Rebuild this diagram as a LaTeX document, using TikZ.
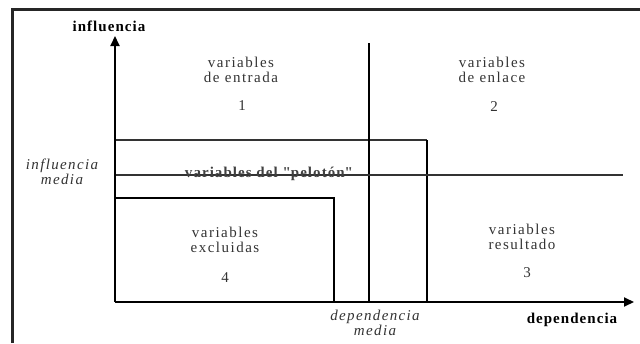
\documentclass[tikz,border=0pt]{standalone}
\usepackage{fontspec}
\setmainfont{Liberation Serif}
\usetikzlibrary{arrows.meta}
\tikzset{
  frame/.style={line width=3pt, draw=black!85},
  axis/.style={line width=2pt, -{Triangle[length=10pt,width=9pt]}},
  thick line/.style={line width=2pt},
  thin line/.style={line width=1.2pt, draw=black!80},
  lbl/.style={font=\fontsize{15}{15}\selectfont\addfontfeature{LetterSpace=10}, align=center, text=black!80, inner sep=0pt},
  axlbl/.style={font=\fontsize{15}{15}\selectfont\bfseries\addfontfeature{LetterSpace=7}, inner sep=0pt},
  itlbl/.style={font=\fontsize{15}{15}\selectfont\itshape\addfontfeature{LetterSpace=9}, align=center, text=black!80, inner sep=0pt},
}
\begin{document}
\begin{tikzpicture}[x=1pt,y=-1pt]
\useasboundingbox (0,0) rectangle (640,343);
% frame
\coordinate (ftl) at (12.5,9.5);
\coordinate (fbl) at (12.5,343);
\coordinate (ftr) at (640,9.5);
\draw[frame] (fbl) -- (ftl) -- (ftr);
% axes
\coordinate (o) at (115,302);
\coordinate (ytip) at (115,36);
\coordinate (xtip) at (634,302);
% boxes
\coordinate (p1) at (115,140);
\coordinate (p2) at (427,140);
\coordinate (p3) at (427,302);
\draw[thin line] (p1) -- (p2);
\draw[thick line] (p2) -- (p3);
\coordinate (e1) at (115,198);
\coordinate (e2) at (334,198);
\coordinate (e3) at (334,302);
\draw[line width=1.6pt] (e1) -- (e2) -- (e3);
% dependencia media vertical
\coordinate (dm1) at (369,43);
\coordinate (dm2) at (369,302);
\draw[thick line] (dm1) -- (dm2);
% influencia media horizontal
\coordinate (im1) at (115,175);
\coordinate (im2) at (623,175);
\draw[thin line] (im1) -- (im2);
\draw[axis] (o) -- (ytip);
\draw[axis] (o) -- (xtip);
% labels
\node[axlbl] (yl) at (109,26) {influencia};
\node[axlbl] (xl) at (572,320) {dependencia};
\node[itlbl] (iml) at (62,172) {influencia\\media};
\node[itlbl] (dml) at (375,323) {dependencia\\media};
\node[lbl] (q1) at (241,70) {variables\\de entrada};
\node[lbl] (n1) at (242,106) {1};
\node[lbl] (q2) at (492,70) {variables\\de enlace};
\node[lbl] (n2) at (494,107) {2};
\node[lbl] (q4) at (225,240) {variables\\excluidas};
\node[lbl] (n4) at (225,278) {4};
\node[lbl] (q3) at (522,237) {variables\\resultado};
\node[lbl] (n3) at (527,273) {3};
\node[lbl, font=\fontsize{15}{15}\selectfont\addfontfeature{LetterSpace=7}, text=black!75] (pel) at (269,174) {\textbf{variables del \textquotedbl pelotón\textquotedbl}};
\end{tikzpicture}
\end{document}
